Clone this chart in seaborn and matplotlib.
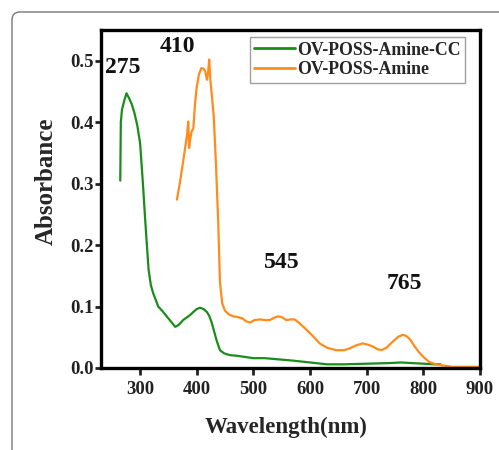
import numpy as np
import pandas as pd
import seaborn as sns
import matplotlib
matplotlib.use("Agg")
import matplotlib.pyplot as plt
from matplotlib.patches import FancyBboxPatch
from matplotlib.transforms import IdentityTransform

# ---- data ----
wl_cc = [265, 266, 268, 272, 276, 280, 285, 290, 295, 300,
         305, 309, 312, 315, 319, 323, 328, 332, 340, 347,
         355, 362, 368, 376, 382, 388, 395, 400, 406, 412,
         418, 422, 426, 430, 435, 441, 448, 458, 470, 485,
         500, 520, 545, 570, 590, 610, 630, 660, 700, 740,
         760, 780, 800, 820, 830]
abs_cc = [0.305, 0.40, 0.42, 0.435, 0.447, 0.44, 0.43, 0.415, 0.395, 0.366,
          0.30, 0.241, 0.2, 0.16, 0.135, 0.122, 0.11, 0.10, 0.092, 0.084,
          0.075, 0.067, 0.070, 0.078, 0.082, 0.086, 0.092, 0.096, 0.098, 0.096,
          0.091, 0.085, 0.075, 0.062, 0.045, 0.029, 0.024, 0.021, 0.020, 0.018,
          0.016, 0.016, 0.014, 0.012, 0.010, 0.008, 0.006, 0.006, 0.007, 0.008,
          0.009, 0.008, 0.007, 0.006, 0.006]

wl_a = [365, 370, 375, 379, 383, 385, 386.5, 388, 391, 394,
        397, 400, 404, 408, 412, 415, 418, 420, 422, 424,
        427, 430, 434, 438, 441, 445, 450, 457, 465, 472,
        480, 487, 494, 502, 511, 520, 529, 537, 544, 550,
        558, 566, 573, 580, 587, 594, 605, 617, 630, 646,
        660, 670, 682, 693, 702, 711, 718, 726, 735, 746,
        756, 764, 770, 777, 784, 792, 800, 810, 822, 835,
        851, 870, 900]
abs_a = [0.274, 0.30, 0.33, 0.355, 0.38, 0.401, 0.358, 0.37, 0.385, 0.39,
         0.43, 0.458, 0.478, 0.488, 0.487, 0.483, 0.469, 0.48, 0.502, 0.469,
         0.44, 0.41, 0.33, 0.235, 0.14, 0.105, 0.093, 0.087, 0.084, 0.083,
         0.081, 0.076, 0.074, 0.078, 0.079, 0.078, 0.078, 0.082, 0.084, 0.083,
         0.078, 0.079, 0.079, 0.074, 0.068, 0.062, 0.052, 0.040, 0.033, 0.029,
         0.029, 0.032, 0.037, 0.040, 0.038, 0.035, 0.031, 0.029, 0.033, 0.043,
         0.051, 0.054, 0.052, 0.046, 0.036, 0.026, 0.018, 0.010, 0.006, 0.004,
         0.002, 0.002, 0.002]

series_names = ["OV-POSS-Amine-CC", "OV-POSS-Amine"]
peak_labels = ["275", "410", "545", "765"]
peak_label_pos = [(270, 0.489), (366, 0.523), (550, 0.171), (766, 0.138)]
x_ticks = [300, 400, 500, 600, 700, 800, 900]
y_ticks = [0.0, 0.1, 0.2, 0.3, 0.4, 0.5]

df = pd.concat([
    pd.DataFrame({"wl": wl_cc, "abs": abs_cc, "series": series_names[0]}),
    pd.DataFrame({"wl": wl_a, "abs": abs_a, "series": series_names[1]}),
], ignore_index=True)

sns.set_style("ticks")
plt.rcParams["font.family"] = ["Liberation Serif", "DejaVu Serif"]
plt.rcParams["font.weight"] = "bold"

fig = plt.figure(figsize=(4.99, 4.5), dpi=100)
ax = fig.add_axes([101/499, 1 - 368/450, 379/499, 338/450])

palette = {series_names[0]: "#1a8c1a", series_names[1]: "#ff8c1a"}
sns.lineplot(data=df, x="wl", y="abs", hue="series", palette=palette,
             hue_order=series_names, linewidth=1.6, ax=ax, estimator=None,
             sort=True)

ax.set_xlim(231, 900)
ax.set_ylim(0, 0.55)
ax.set_xticks(x_ticks)
ax.set_yticks(y_ticks)
ax.set_yticklabels([f"{v:.1f}" for v in y_ticks])
ax.tick_params(axis="both", labelsize=13.5, width=2, length=4, direction="out",
               colors="#222222")
ax.tick_params(axis="y", pad=1)
ax.tick_params(axis="x", pad=4, length=5)
for lbl in ax.get_xticklabels() + ax.get_yticklabels():
    lbl.set_fontweight("bold")
for s in ax.spines.values():
    s.set_linewidth(2.4)
    s.set_color("black")
    s.set_visible(True)

ax.set_xlabel("Wavelength(nm)", fontsize=16.5, fontweight="bold", labelpad=13)
ax.set_ylabel("Absorbance", fontsize=18, fontweight="bold", labelpad=9)
ax.xaxis.set_label_coords(0.488, -0.145)
ax.yaxis.label.set_y(0.553)

for t, (x, y) in zip(peak_labels, peak_label_pos):
    ax.text(x, y, t, fontsize=17, fontweight="bold", ha="center", va="center",
            color="#111111")

leg = ax.legend(loc="upper right", bbox_to_anchor=(0.960, 0.979),
                borderaxespad=0, fancybox=False, frameon=True,
                prop={"family": "Liberation Serif", "weight": "bold", "size": 12.8},
                handlelength=2.3, handletextpad=0.1, borderpad=0.25,
                labelspacing=0.15)
leg.get_frame().set_edgecolor("#888888")
leg.get_frame().set_linewidth(1.0)
for line in leg.get_lines():
    line.set_linewidth(2)

border = FancyBboxPatch((12, -20), 520, 458, boxstyle="round,pad=0,rounding_size=8",
                        transform=IdentityTransform(), facecolor="none",
                        edgecolor="#777777", linewidth=1.0)
fig.add_artist(border)

fig.savefig("out.png", dpi=100)
